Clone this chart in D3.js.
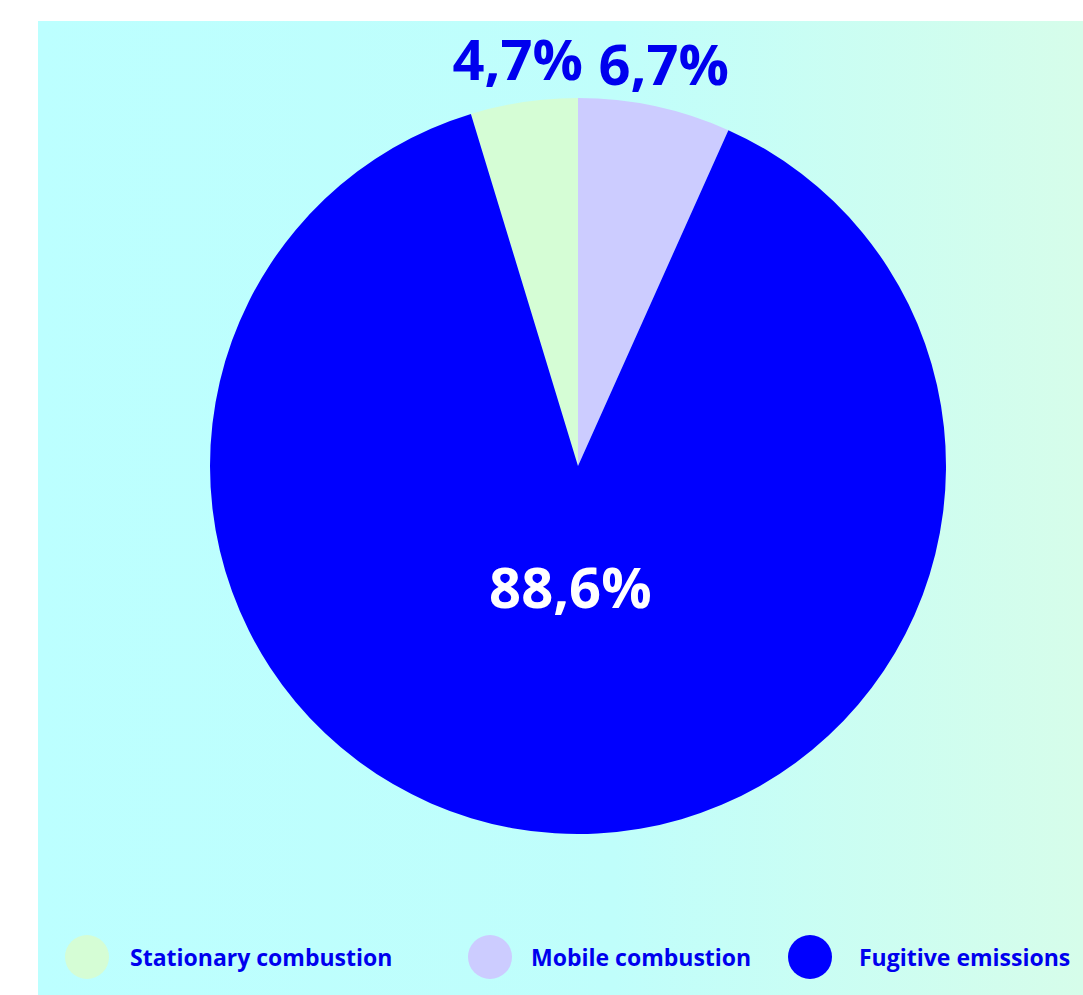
<!DOCTYPE html>
<html>
<head>
<meta charset="utf-8">
<script src="https://cdn.jsdelivr.net/npm/d3@7"></script>
<style>
  html, body { margin: 0; padding: 0; background: #ffffff; }
  svg { display: block; }
  text { font-family: "Open Sans", "DejaVu Sans", sans-serif; font-weight: 700; }
</style>
</head>
<body>
<svg id="chart" width="1083" height="995"></svg>
<script>
// Emission sources and their share of the total (%)
const categories = ["Stationary combustion", "Mobile combustion", "Fugitive emissions"];
const shares = [4.7, 6.7, 88.6];

// Slice and label colours, one per category
const sliceColors = ["#d5fdd5", "#ccccff", "#0000ff"];
const valueColors = ["#0000ee", "#0000ee", "#ffffff"];

// Layout
const W = 1083, H = 995;
const panel = { x: 38, y: 21, w: 1045, h: 974 };
const cx = 578, cy = 466, R = 368;
const legendY = 957, legendR = 22;
const legendDotX = [87, 490, 810];
const legendTextX = [130, 531, 859];

const svg = d3.select("#chart");

// Soft cyan-to-mint background panel
const defs = svg.append("defs");
const grad = defs.append("linearGradient")
  .attr("id", "panelFill").attr("x1", "0").attr("x2", "1").attr("y1", "0").attr("y2", "0");
grad.append("stop").attr("offset", "0").attr("stop-color", "#bcffff");
grad.append("stop").attr("offset", "0.55").attr("stop-color", "#c0fefb");
grad.append("stop").attr("offset", "1").attr("stop-color", "#d6fdea");

svg.append("rect")
  .attr("x", panel.x).attr("y", panel.y)
  .attr("width", panel.w).attr("height", panel.h)
  .attr("fill", "url(#panelFill)");

// Pie: stationary slice ends at 12 o'clock, the rest follow clockwise
const start = -shares[0] / 100 * 2 * Math.PI;
const pie = d3.pie().sort(null).value(d => d)
  .startAngle(start).endAngle(start + 2 * Math.PI);
const arcs = pie(shares);

const arc = d3.arc().innerRadius(0).outerRadius(R);
const g = svg.append("g").attr("transform", `translate(${cx},${cy})`);

g.selectAll("path.slice")
  .data(arcs)
  .join("path")
  .attr("class", "slice")
  .attr("d", arc)
  .attr("fill", (d, i) => sliceColors[i]);

// Value labels: large slices inside, narrow slices just outside the rim
const fmt = v => d3.format(".1f")(v).replace(".", ",") + "%";
const fontSize = 56;
const insideArc = d3.arc().innerRadius(122).outerRadius(122);
const outsideArc = d3.arc().innerRadius(R + 42).outerRadius(R + 42);

g.selectAll("text.value")
  .data(arcs)
  .join("text")
  .attr("class", "value")
  .each(function (d, i) {
    const small = d.value < 10;
    const [x, y] = (small ? outsideArc : insideArc).centroid(d);
    d3.select(this)
      .attr("x", x)
      .attr("y", y + fontSize * 0.357)
      .attr("text-anchor", "middle")
      .attr("font-size", fontSize)
      .attr("fill", valueColors[i])
      .text(fmt(d.value));
  });

// Legend
const legend = svg.append("g");
legend.selectAll("circle")
  .data(categories)
  .join("circle")
  .attr("cx", (d, i) => legendDotX[i])
  .attr("cy", legendY)
  .attr("r", legendR)
  .attr("fill", (d, i) => sliceColors[i]);

legend.selectAll("text")
  .data(categories)
  .join("text")
  .attr("x", (d, i) => legendTextX[i])
  .attr("y", legendY + 9)
  .attr("font-size", 23)
  .attr("fill", "#0000ee")
  .text(d => d);
</script>
</body>
</html>
